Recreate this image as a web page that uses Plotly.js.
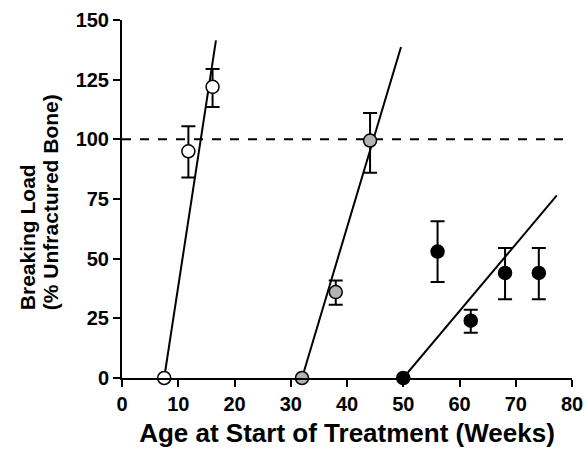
<!DOCTYPE html>
<html>
<head>
<meta charset="utf-8">
<script src="https://cdn.plot.ly/plotly-3.0.1.min.js"></script>
<style>html,body{margin:0;padding:0;background:#fff;}#chart{width:585px;height:452px;}</style>
</head>
<body>
<div id="chart"></div>
<script>
// White group
const whiteX = [7.5, 11.8, 16.1];
const whiteY = [0, 95, 122];
const whiteErrPlus = [0, 10.5, 7.5];
const whiteErrMinus = [0, 11, 8.5];
const whiteFitX = [7.5, 16.7];
const whiteFitY = [0, 141.5];

// Grey group
const greyX = [32, 38, 44.1];
const greyY = [0, 36, 99.5];
const greyErrPlus = [0, 4.8, 11.5];
const greyErrMinus = [0, 5.3, 13.5];
const greyFitX = [32, 49.6];
const greyFitY = [0, 138.7];

// Black group
const blackX = [50, 56.1, 62, 68.1, 74.1];
const blackY = [0, 53, 24, 44, 44];
const blackErrPlus = [0, 12.7, 4.6, 10.5, 10.5];
const blackErrMinus = [0, 12.8, 5, 11, 11];
const blackFitX = [50, 77.3];
const blackFitY = [0, 76.5];

const refLineY = 100;
const xTicks = [0, 10, 20, 30, 40, 50, 60, 70, 80];
const yTicks = [0, 25, 50, 75, 100, 125, 150];
const xTitle = 'Age at Start of Treatment (Weeks)';
const yTitle1 = 'Breaking Load';
const yTitle2 = '(% Unfractured Bone)';

function pts(x, y, ep, em, fill) {
  return {
    x: x, y: y, type: 'scatter', mode: 'markers', cliponaxis: false,
    marker: {size: 13, color: fill, line: {color: '#000', width: 1.5}},
    error_y: {type: 'data', symmetric: false, array: ep, arrayminus: em,
      color: '#000', thickness: 2, width: 7},
    showlegend: false, hoverinfo: 'skip'
  };
}
function fit(x, y) {
  return {x: x, y: y, type: 'scatter', mode: 'lines', cliponaxis: false,
    line: {color: '#000', width: 2}, showlegend: false, hoverinfo: 'skip'};
}

const data = [
  fit(whiteFitX, whiteFitY), fit(greyFitX, greyFitY), fit(blackFitX, blackFitY),
  pts(whiteX, whiteY, whiteErrPlus, whiteErrMinus, '#ffffff'),
  pts(greyX, greyY, greyErrPlus, greyErrMinus, '#b3b3b3'),
  pts(blackX, blackY, blackErrPlus, blackErrMinus, '#000000')
];

const fam = 'Liberation Sans, Arial, sans-serif';
const b = s => '<b>' + s + '</b>';

const layout = {
  width: 585, height: 452,
  margin: {l: 122, r: 13, t: 20, b: 74},
  paper_bgcolor: '#fff', plot_bgcolor: '#fff',
  font: {family: fam, color: '#000', size: 20},
  showlegend: false,
  xaxis: {
    range: [0, 80], tickvals: xTicks, ticktext: xTicks.map(v => b(v)),
    showgrid: false, zeroline: false, showline: true, linecolor: '#000', linewidth: 2,
    ticks: 'outside', ticklen: 7, tickwidth: 2, tickcolor: '#000',
    tickfont: {size: 20},
    title: {text: b(xTitle), standoff: 10,
      font: {family: fam, size: 26, color: '#000'}}
  },
  yaxis: {
    range: [0, 150], tickvals: yTicks, ticktext: yTicks.map(v => b(v)),
    showgrid: false, zeroline: false, showline: true, linecolor: '#000', linewidth: 2,
    ticks: 'outside', ticklen: 7, tickwidth: 2, tickcolor: '#000',
    tickfont: {size: 20}
  },
  annotations: [
    {text: b(yTitle1), xref: 'paper', yref: 'paper', x: -0.211, y: 0.184,
      xanchor: 'center', yanchor: 'bottom', textangle: -90, showarrow: false,
      font: {family: fam, size: 21, color: '#000'}},
    {text: b(yTitle2), xref: 'paper', yref: 'paper', x: -0.16, y: 0.184,
      xanchor: 'center', yanchor: 'bottom', textangle: -90, showarrow: false,
      font: {family: fam, size: 21, color: '#000'}}
  ],
  shapes: [{type: 'line', xref: 'x', yref: 'y', x0: 0, x1: 80, y0: refLineY, y1: refLineY,
    line: {color: '#000', width: 2, dash: 'dash'}, layer: 'below'}]
};

Plotly.newPlot('chart', data, layout, {staticPlot: true, displayModeBar: false});
</script>
</body>
</html>
